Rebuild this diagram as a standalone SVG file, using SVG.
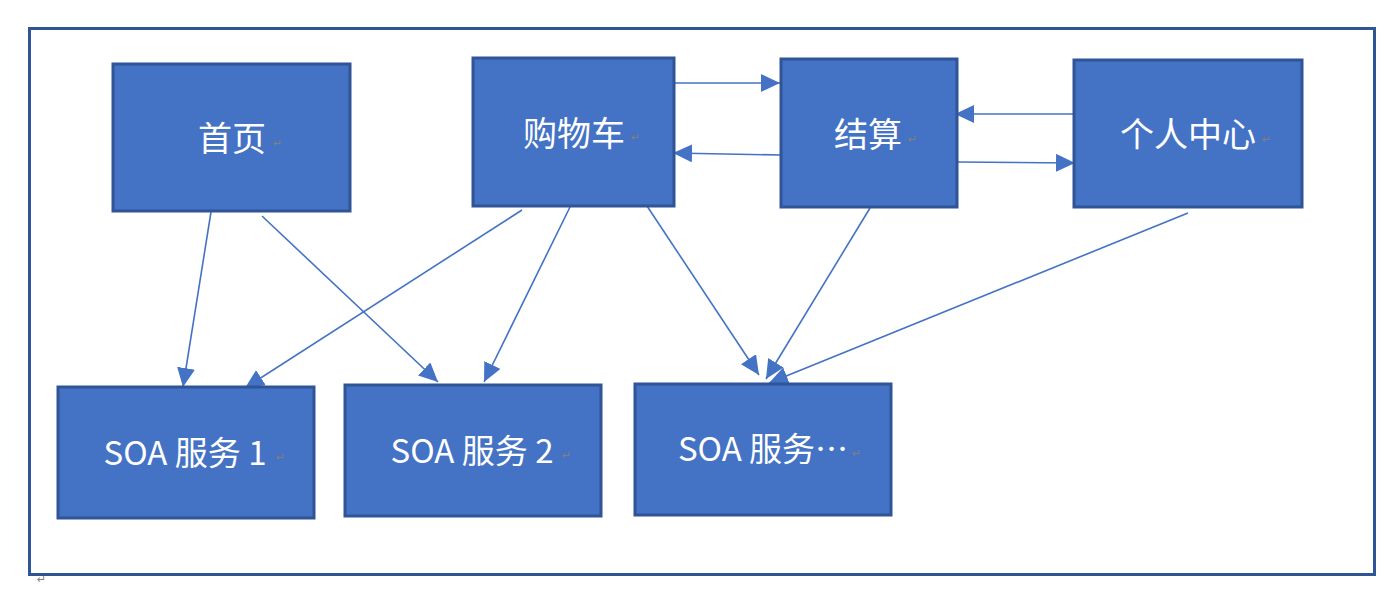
<svg xmlns="http://www.w3.org/2000/svg" width="1399" height="596" viewBox="0 0 1399 596">
<style>
.box{fill:#4472C4;stroke:#2F5597;stroke-width:3}
.lbl{font-family:"Noto Sans CJK SC","Microsoft YaHei",sans-serif;fill:#FFFFFF;text-anchor:middle;dominant-baseline:central}
.big{font-size:34px}
.soa{font-size:33px}
.ret{font-family:"DejaVu Sans",sans-serif;font-size:11px;fill:#808080}
.conn{stroke:#4472C4;stroke-width:1.6;fill:none;marker-end:url(#ah)}
</style>
<defs>
<marker id="ah" markerUnits="userSpaceOnUse" markerWidth="22" markerHeight="22" refX="19" refY="9" orient="auto">
<path d="M0,0 L19,9 L0,18 z" fill="#4472C4"/>
</marker>
</defs>
<rect x="0" y="0" width="1399" height="596" fill="#FFFFFF"/>
<g id="frame">
<rect x="29.5" y="28.5" width="1345" height="546" fill="none" stroke="#2F5597" stroke-width="3"/>
<text class="ret" x="37" y="583">↵</text>
</g>
<g id="connectors">
<line class="conn" x1="211" y1="212" x2="183" y2="387"/>
<line class="conn" x1="262" y1="216" x2="438" y2="382"/>
<line class="conn" x1="522" y1="210" x2="245" y2="388"/>
<line class="conn" x1="570" y1="207" x2="484" y2="382"/>
<line class="conn" x1="647" y1="206" x2="759" y2="375"/>
<line class="conn" x1="870" y1="208" x2="766" y2="379"/>
<line class="conn" x1="1188" y1="213" x2="769" y2="383"/>
<line class="conn" x1="674" y1="83" x2="780" y2="83"/>
<line class="conn" x1="781" y1="155" x2="673" y2="153"/>
<line class="conn" x1="1074" y1="114" x2="955" y2="114"/>
<line class="conn" x1="957" y1="162" x2="1075" y2="163"/>
</g>
<g id="home">
<rect class="box" x="113" y="64" width="237" height="147"/>
<text class="lbl big" x="232" y="136">首页</text>
<text class="ret" x="273" y="147">↵</text>
</g>
<g id="cart">
<rect class="box" x="473" y="58" width="201" height="148"/>
<text class="lbl big" x="574" y="131">购物车</text>
<text class="ret" x="631" y="141">↵</text>
</g>
<g id="checkout">
<rect class="box" x="781" y="59" width="176" height="148"/>
<text class="lbl big" x="868" y="132">结算</text>
<text class="ret" x="908" y="143">↵</text>
</g>
<g id="profile">
<rect class="box" x="1074" y="60" width="228" height="147"/>
<text class="lbl big" x="1188" y="132">个人中心</text>
<text class="ret" x="1262" y="143">↵</text>
</g>
<g id="soa1">
<rect class="box" x="58" y="387" width="256" height="131"/>
<text class="lbl soa" x="185" y="451">SOA 服务 1</text>
<text class="ret" x="276" y="461">↵</text>
</g>
<g id="soa2">
<rect class="box" x="345" y="385" width="256" height="131"/>
<text class="lbl soa" x="472" y="449">SOA 服务 2</text>
<text class="ret" x="562" y="459">↵</text>
</g>
<g id="soa3">
<rect class="box" x="635" y="384" width="256" height="131"/>
<text class="lbl soa" x="763" y="447">SOA 服务…</text>
<text class="ret" x="852" y="457">↵</text>
</g>
</svg>
